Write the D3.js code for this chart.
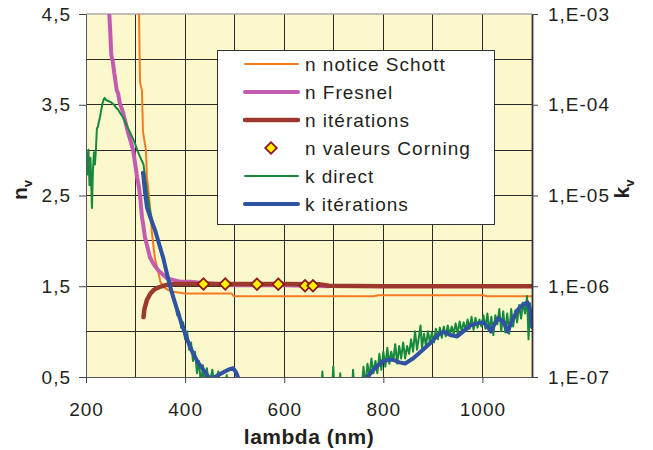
<!DOCTYPE html>
<html>
<head>
<meta charset="utf-8">
<script src="https://cdn.jsdelivr.net/npm/d3@7"></script>
<style>
  body { margin: 0; background: #fff; }
  text { font-family: "Liberation Sans", Arial, sans-serif; fill: #231f20; }
</style>
</head>
<body>
<svg id="chart" width="653" height="450"></svg>
<script>
// ---- data : [lambda (nm), valeur] ----
const schott = [[305, 4.9], [307, 4.5], [309, 3.75], [313, 3.65], [315, 3.2], [321, 3.0], [323, 2.7],
  [327, 2.5], [331, 2.25], [333, 2.09], [339, 1.81], [345, 1.68], [350, 1.55], [355, 1.5], [365, 1.46],
  [376, 1.44], [400, 1.42], [494, 1.42], [498, 1.39], [780, 1.39], [790, 1.40], [1000, 1.40], [1010, 1.39], [1100, 1.39]];

const fresnel = [[245, 4.7], [247, 4.5], [249, 4.3], [251, 4.05], [254, 3.98], [257, 3.85], [259, 3.78],
  [262, 3.66], [265, 3.62], [268, 3.52], [272, 3.46], [275, 3.41], [280, 3.3], [285, 3.19], [290, 3.1],
  [295, 3.0], [299, 2.86], [303, 2.7], [306, 2.62], [309, 2.5], [313, 2.26], [316, 2.16], [319, 2.04],
  [324, 1.93], [329, 1.82], [337, 1.74], [345, 1.68], [355, 1.63], [363, 1.59], [375, 1.57], [390, 1.55],
  [410, 1.55], [430, 1.54], [500, 1.51], [600, 1.51], [690, 1.50]];

const nIterations = [[316, 1.16], [318, 1.25], [323, 1.35], [330, 1.42], [337, 1.46], [343, 1.48], [353, 1.50],
  [363, 1.515], [380, 1.525], [450, 1.525], [600, 1.525], [670, 1.522], [690, 1.505], [800, 1.50], [1100, 1.50]];

const corning = [[437, 1.525], [481, 1.525], [545, 1.523], [588, 1.522], [642, 1.505], [658, 1.505]];

const kDirect = [[200, 2.2e-5], [201, 3.0e-5], [203, 1.7e-5], [205, 3.2e-5], [207, 1.3e-5], [209, 2.6e-5],
  [211, 1.15e-5], [212, 7.3e-6], [214, 1.9e-5], [216, 3.0e-5], [218, 2.2e-5], [220, 3.2e-5], [222, 5.5e-5],
  [224, 5.7e-5], [226, 6.5e-5], [228, 7.2e-5], [230, 8.3e-5], [233, 1.02e-4], [236, 1.16e-4], [238, 1.19e-4],
  [240, 1.13e-4], [245, 1.1e-4], [250, 1.07e-4], [255, 1.02e-4], [260, 9.4e-5], [265, 8.8e-5], [270, 7.9e-5],
  [275, 7.2e-5], [280, 6.3e-5], [285, 5.5e-5], [290, 4.8e-5], [295, 4.2e-5], [300, 3.6e-5], [305, 3.0e-5],
  [310, 2.6e-5], [316, 2.2e-5], [320, 1.5e-5], [325, 9.5e-6], [330, 6.5e-6], [335, 5.0e-6], [340, 3.9e-6],
  [345, 3.1e-6], [350, 2.5e-6], [355, 2.0e-6], [360, 1.6e-6], [365, 1.25e-6], [370, 1.0e-6], [375, 7.5e-7],
  [380, 6.5e-7], [384, 4.8e-7], [388, 5.2e-7], [392, 3.5e-7], [396, 4.0e-7], [400, 2.6e-7], [404, 3.2e-7],
  [408, 2.0e-7], [412, 2.4e-7], [416, 1.5e-7], [420, 1.9e-7], [424, 1.1e-7], [428, 1.5e-7], [432, 8e-8],
  [436, 1.35e-7], [440, 8e-8], [444, 1.25e-7], [448, 8e-8], [455, 1.2e-7], [459, 8e-8], [467, 1.15e-7],
  [471, 7e-8], [480, 8e-8], [484, 1.05e-7], [488, 7e-8], [600, 5e-8], [673, 5e-8], [677, 1.15e-7], [681, 5e-8],
  [695, 5e-8], [699, 1.3e-7], [703, 5e-8], [710, 5e-8], [713, 1.1e-7], [716, 5e-8], [735, 5e-8], [739, 1.2e-7],
  [743, 5e-8], [755, 6e-8], [760, 1.3e-7], [764, 8e-8], [768, 1.4e-7], [772, 1.0e-7], [776, 1.6e-7],
  [780, 1.1e-7], [784, 1.5e-7], [788, 1.1e-7], [792, 1.8e-7], [796, 1.2e-7], [800, 1.9e-7], [804, 1.3e-7],
  [808, 2.1e-7], [812, 1.4e-7], [816, 1.9e-7], [820, 1.5e-7], [824, 2.3e-7], [828, 1.4e-7], [832, 2.2e-7],
  [836, 1.6e-7], [840, 2.4e-7], [844, 1.6e-7], [848, 2.2e-7], [852, 1.8e-7], [856, 2.6e-7], [860, 1.9e-7],
  [864, 3.2e-7], [868, 2.0e-7], [872, 2.8e-7], [875, 3.7e-7], [878, 2.1e-7], [882, 3.0e-7], [886, 2.2e-7],
  [890, 3.2e-7], [894, 2.4e-7], [898, 3.1e-7], [902, 2.4e-7], [906, 3.4e-7], [910, 2.6e-7], [914, 3.5e-7],
  [918, 2.7e-7], [922, 3.6e-7], [926, 2.8e-7], [930, 3.7e-7], [934, 2.9e-7], [938, 3.6e-7], [942, 3.0e-7],
  [946, 3.9e-7], [950, 3.0e-7], [954, 4.1e-7], [958, 3.2e-7], [962, 4.0e-7], [966, 3.3e-7], [970, 4.3e-7],
  [974, 3.4e-7], [978, 4.6e-7], [982, 3.3e-7], [986, 4.5e-7], [990, 3.5e-7], [994, 4.3e-7], [998, 3.6e-7],
  [1002, 4.8e-7], [1006, 3.4e-7], [1010, 5.0e-7], [1014, 3.2e-7], [1018, 4.6e-7], [1022, 2.9e-7], [1026, 4.8e-7],
  [1030, 3.8e-7], [1034, 5.6e-7], [1038, 3.2e-7], [1042, 5.3e-7], [1046, 3.1e-7], [1050, 5.0e-7], [1054, 3.0e-7],
  [1058, 5.6e-7], [1062, 3.6e-7], [1066, 5.4e-7], [1070, 4.0e-7], [1074, 6.2e-7], [1078, 4.4e-7], [1082, 6.6e-7],
  [1086, 5.0e-7], [1090, 7.8e-7], [1093, 2.6e-7], [1096, 6.5e-7], [1100, 4.0e-7]];

const kIterations = [[315, 1.78e-5], [319, 1.1e-5], [323, 7.4e-6], [331, 5.5e-6], [339, 4.2e-6], [347, 3.0e-6],
  [356, 2.04e-6], [363, 1.4e-6], [370, 9.8e-7], [377, 7.3e-7], [384, 5.5e-7], [392, 4.0e-7], [400, 3.0e-7],
  [408, 2.3e-7], [416, 1.82e-7], [426, 1.45e-7], [437, 1.2e-7], [447, 1.0e-7], [452, 9e-8], [460, 1.0e-7],
  [470, 1.07e-7], [480, 1.15e-7], [490, 1.22e-7], [497, 1.25e-7], [503, 1.12e-7], [508, 9.5e-8], [515, 8e-8],
  [600, 6e-8], [700, 6e-8], [765, 9e-8], [768, 1.0e-7], [780, 1.2e-7], [798, 1.48e-7], [810, 1.55e-7],
  [820, 1.55e-7], [832, 1.45e-7], [844, 1.41e-7], [860, 1.6e-7], [880, 2.0e-7], [895, 2.37e-7], [910, 2.9e-7],
  [921, 3.16e-7], [935, 2.9e-7], [949, 2.8e-7], [962, 3.2e-7], [976, 3.7e-7], [990, 3.9e-7], [1002, 4.0e-7],
  [1010, 3.6e-7], [1017, 3.16e-7], [1024, 3.8e-7], [1032, 4.47e-7], [1043, 4.0e-7], [1051, 3.16e-7],
  [1060, 4.2e-7], [1071, 5.5e-7], [1082, 6.3e-7], [1091, 6.6e-7], [1096, 5.5e-7], [1100, 3.55e-7]];

const xTicks = [200, 400, 600, 800, 1000];
const nTicks = [0.5, 1.5, 2.5, 3.5, 4.5];
const kTicks = [1e-7, 1e-6, 1e-5, 1e-4, 1e-3];

// ---- mise en page ----
const plotL = 86, plotR = 532, plotT = 14, plotB = 377;
const svg = d3.select("#chart");

const x = d3.scaleLinear().domain([200, 1100]).range([plotL, plotR]);
const yN = d3.scaleLinear().domain([0.5, 4.5]).range([plotB, plotT]);
const yK = d3.scaleLog().domain([1e-7, 1e-3]).range([plotB, plotT]);

svg.append("rect").attr("width", 653).attr("height", 450).attr("fill", "#fff");
svg.append("rect")
  .attr("x", plotL).attr("y", plotT)
  .attr("width", plotR - plotL).attr("height", plotB - plotT)
  .attr("fill", "#fbf9cc");

svg.append("clipPath").attr("id", "plotClip")
  .append("rect")
  .attr("x", plotL).attr("y", plotT)
  .attr("width", plotR - plotL).attr("height", plotB - plotT);

// grille
const grid = svg.append("g").attr("stroke", "#2a2a2a").attr("stroke-width", 1).attr("shape-rendering", "crispEdges");
d3.range(300, 1100, 100).forEach(v => {
  grid.append("line").attr("x1", x(v)).attr("x2", x(v)).attr("y1", plotT).attr("y2", plotB);
});
d3.range(1, 4.5, 0.5).forEach(v => {
  grid.append("line").attr("x1", plotL).attr("x2", plotR).attr("y1", yN(v)).attr("y2", yN(v));
});
svg.append("line").attr("x1", plotL).attr("x2", plotR).attr("y1", plotT).attr("y2", plotT)
  .attr("stroke", "#aaa").attr("stroke-width", 1.5);

// courbes
const series = [
  { name: "n notice Schott", color: "#f57a22", width: 2, data: schott, y: yN },
  { name: "n Fresnel", color: "#c25bb1", width: 4, data: fresnel, y: yN },
  { name: "n itérations", color: "#9b3a2c", width: 4.5, data: nIterations, y: yN },
  { name: "n valeurs Corning", marker: true, data: corning, y: yN },
  { name: "k direct", color: "#17893f", width: 2, data: kDirect, y: yK },
  { name: "k itérations", color: "#2f52a3", width: 4, data: kIterations, y: yK }
];

const plot = svg.append("g").attr("clip-path", "url(#plotClip)");
const diamond = d3.symbol().type(d3.symbolSquare).size(66);

series.forEach(s => {
  if (s.marker) {
    plot.selectAll(null).data(s.data).join("path")
      .attr("d", diamond)
      .attr("transform", d => `translate(${x(d[0])},${s.y(d[1])}) rotate(45)`)
      .attr("fill", "#fff200").attr("stroke", "#8b1a1a").attr("stroke-width", 1.8);
    return;
  }
  const line = d3.line().x(d => x(d[0])).y(d => s.y(d[1]));
  plot.append("path")
    .datum(s.data)
    .attr("d", line)
    .attr("fill", "none")
    .attr("stroke", s.color)
    .attr("stroke-width", s.width)
    .attr("stroke-linejoin", "round")
    .attr("stroke-linecap", "round");
});

// axes
const fmtN = d => d.toFixed(1).replace(".", ",");
const fmtK = d => "1,E-0" + Math.round(-Math.log10(d));

const axL = svg.append("g").attr("transform", `translate(${plotL},0)`)
  .call(d3.axisLeft(yN).tickValues(nTicks).tickFormat(fmtN).tickSize(7).tickSizeOuter(0).tickPadding(8));
const axB = svg.append("g").attr("transform", `translate(0,${plotB})`)
  .call(d3.axisBottom(x).tickValues(xTicks).tickFormat(d3.format("d")).tickSize(6).tickSizeOuter(0).tickPadding(20));
const axR = svg.append("g").attr("transform", `translate(${plotR},0)`)
  .call(d3.axisRight(yK).tickValues(kTicks).tickFormat(fmtK).tickSize(6).tickSizeOuter(0).tickPadding(10));

[axL, axB, axR].forEach(a => {
  a.selectAll("text").attr("font-size", 19).attr("letter-spacing", 1).attr("fill", "#231f20")
    .attr("font-family", '"Liberation Sans", Arial, sans-serif');
  a.selectAll("line").attr("stroke", "#444");
  a.select(".domain").attr("stroke", "#555");
});
axR.select(".domain").attr("stroke", "#333").attr("stroke-width", 1.8);

// titres d'axes
const nTitle = svg.append("text")
  .attr("transform", "translate(27,190) rotate(-90)")
  .attr("text-anchor", "middle").attr("font-size", 21).attr("font-weight", "bold");
nTitle.append("tspan").text("n");
nTitle.append("tspan").attr("font-size", 13).attr("dy", 5).text("v");

const kTitle = svg.append("text")
  .attr("transform", "translate(629,189) rotate(-90)")
  .attr("text-anchor", "middle").attr("font-size", 21).attr("font-weight", "bold");
kTitle.append("tspan").text("k");
kTitle.append("tspan").attr("font-size", 13).attr("dy", 5).text("v");

svg.append("text")
  .attr("x", 309).attr("y", 444)
  .attr("text-anchor", "middle").attr("font-size", 21).attr("font-weight", "bold")
  .attr("letter-spacing", 0.5)
  .text("lambda (nm)");

// légende
const legend = svg.append("g");
legend.append("rect")
  .attr("x", 217.5).attr("y", 50.5).attr("width", 277).attr("height", 174)
  .attr("fill", "#fff").attr("stroke", "#333").attr("stroke-width", 1);

series.forEach((s, i) => {
  const cy = 64 + i * 28;
  if (s.marker) {
    legend.append("path").attr("d", diamond)
      .attr("transform", `translate(271,${cy}) rotate(45)`)
      .attr("fill", "#fff200").attr("stroke", "#8b1a1a").attr("stroke-width", 1.8);
  } else {
    legend.append("line")
      .attr("x1", 245).attr("x2", 298).attr("y1", cy).attr("y2", cy)
      .attr("stroke", s.color).attr("stroke-width", s.width).attr("stroke-linecap", "round");
  }
  legend.append("text")
    .attr("x", 305).attr("y", cy + 7)
    .attr("font-size", 19).attr("letter-spacing", 1)
    .text(s.name);
});
</script>
</body>
</html>
